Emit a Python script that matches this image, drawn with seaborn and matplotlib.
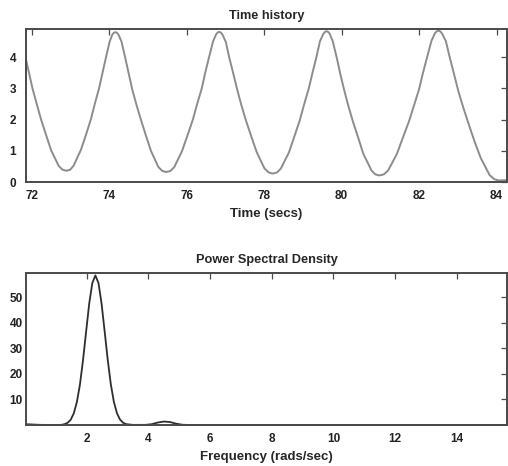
import matplotlib
matplotlib.use("Agg")
import matplotlib.pyplot as plt
import seaborn as sns
import pandas as pd

sns.set_style("white")
plt.rcParams['font.family'] = ['Liberation Sans', 'DejaVu Sans']

# time history (secs, response)
time_s = [71.59, 71.67, 71.75, 71.84, 71.93, 72.02, 72.13, 72.24, 72.37, 72.50, 72.70, 72.79,
          72.89, 72.99, 73.08, 73.27, 73.40, 73.53, 73.63, 73.74, 73.83, 73.92, 74.01, 74.08, 74.12,
          74.16, 74.20, 74.24, 74.32, 74.41, 74.50, 74.59, 74.70, 74.82, 74.95, 75.08, 75.27, 75.37,
          75.47, 75.58, 75.68, 75.88, 76.02, 76.16, 76.27, 76.39, 76.48, 76.58, 76.68, 76.76, 76.80,
          76.84, 76.88, 76.92, 77.01, 77.10, 77.20, 77.30, 77.41, 77.53, 77.67, 77.81, 78.01, 78.12,
          78.22, 78.33, 78.43, 78.64, 78.78, 78.92, 79.03, 79.15, 79.25, 79.35, 79.44, 79.53, 79.57,
          79.61, 79.65, 79.69, 79.77, 79.87, 79.96, 80.06, 80.17, 80.29, 80.43, 80.56, 80.77, 80.87,
          80.97, 81.09, 81.20, 81.43, 81.58, 81.74, 81.87, 82.00, 82.10, 82.21, 82.32, 82.41, 82.46,
          82.50, 82.54, 82.59, 82.69, 82.79, 82.90, 83.01, 83.14, 83.28, 83.43, 83.59, 83.82, 83.94,
          84.05, 84.25, 84.40]
response = [4.78, 4.70, 4.47, 3.99, 3.50, 3.00, 2.50, 2.01, 1.51, 1.02, 0.51, 0.40,
            0.36, 0.39, 0.52, 1.03, 1.51, 2.02, 2.51, 3.01, 3.51, 4.01, 4.49, 4.72, 4.78,
            4.80, 4.78, 4.72, 4.49, 4.00, 3.50, 2.99, 2.49, 1.99, 1.48, 0.99, 0.48, 0.355,
            0.32, 0.355, 0.48, 0.99, 1.49, 2.00, 2.50, 3.00, 3.51, 4.01, 4.50, 4.73, 4.79,
            4.81, 4.79, 4.73, 4.49, 3.98, 3.49, 2.98, 2.47, 1.97, 1.45, 0.95, 0.43, 0.305,
            0.27, 0.305, 0.43, 0.95, 1.46, 1.98, 2.48, 2.99, 3.51, 4.01, 4.51, 4.75, 4.81,
            4.83, 4.81, 4.75, 4.51, 4.00, 3.49, 2.97, 2.45, 1.94, 1.41, 0.90, 0.37, 0.245,
            0.21, 0.245, 0.37, 0.91, 1.42, 1.95, 2.46, 2.98, 3.50, 4.02, 4.53, 4.77, 4.83,
            4.85, 4.83, 4.76, 4.51, 3.99, 3.46, 2.92, 2.38, 1.85, 1.30, 0.77, 0.22, 0.09,
            0.05, 0.06, 0.09]

# power spectral density (rads/sec, power)
freq = [0.03, 0.5, 1.0, 1.18,
        1.28, 1.38, 1.48, 1.58, 1.68, 1.78, 1.88, 1.98, 2.08, 2.18, 2.28,
        2.38, 2.48, 2.58, 2.68, 2.78, 2.88, 2.98, 3.08, 3.18, 3.28,
        3.5, 3.9, 4.1, 4.3, 4.5, 4.7, 4.9, 5.1, 5.3,
        6.0, 8.0, 10.0, 12.0, 14.0, 15.7]
psd = [0.3, 0.05, 0.02, 0.05,
       0.32, 0.86, 2.09, 4.57, 9.0, 15.9, 25.5, 36.6, 47.5, 55.5, 58.5,
       55.5, 47.5, 36.6, 25.5, 15.9, 9.0, 4.57, 2.09, 0.86, 0.32,
       0.05, 0.05, 0.3, 0.95, 1.35, 1.15, 0.5, 0.1, 0.02,
       0.02, 0.02, 0.02, 0.02, 0.02, 0.02]

th = pd.DataFrame({'t': time_s, 'y': response})
sp = pd.DataFrame({'f': freq, 'p': psd})

fig = plt.figure(figsize=(5.08, 4.66), dpi=100)
ax1 = fig.add_axes([0.0512, 0.6094, 0.947, 0.3283])
ax2 = fig.add_axes([0.0512, 0.088, 0.947, 0.326])

sns.lineplot(data=th, x='t', y='y', ax=ax1, color='#8c8c8c', linewidth=1.4, estimator=None)
sns.lineplot(data=sp, x='f', y='p', ax=ax2, color='#2e2e2e', linewidth=1.3, estimator=None)

ax1.set_xlim(71.853, 84.27)
ax1.set_ylim(0, 4.9)
ax1.set_xticks([72, 74, 76, 78, 80, 82, 84])
ax1.set_yticks([0, 1, 2, 3, 4])
ax1.set_title('Time history', fontsize=9.2, fontweight='bold', pad=7)
ax1.set_xlabel('Time (secs)', fontsize=9.5, fontweight='bold', labelpad=4)
ax1.set_ylabel('')

ax2.set_xlim(0.03, 15.63)
ax2.set_ylim(0, 59.4)
ax2.set_xticks([2, 4, 6, 8, 10, 12, 14])
ax2.set_yticks([10, 20, 30, 40, 50])
ax2.set_title('Power Spectral Density', fontsize=9.2, fontweight='bold', pad=7)
ax2.set_xlabel('Frequency (rads/sec)', fontsize=9.5, fontweight='bold', labelpad=4)
ax2.set_ylabel('')

for ax in (ax1, ax2):
    for s in ax.spines.values():
        s.set_color('#4a4a4a')
        s.set_linewidth(1.4)
    ax.tick_params(direction='in', length=4, width=0.9, color='#4a4a4a',
                   top=True, right=True, labelsize=8.5)
    ax.tick_params(axis='x', pad=6)
    for lab in ax.get_xticklabels() + ax.get_yticklabels():
        lab.set_fontweight('bold')
        lab.set_color('#222222')

ax1.tick_params(axis='y', pad=7)
ax2.tick_params(axis='y', pad=2.5)

fig.savefig('out.png', dpi=100)
